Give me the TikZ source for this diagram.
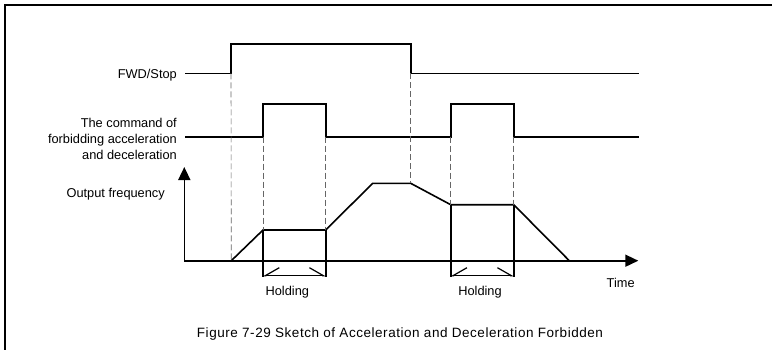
\documentclass[tikz,border=0pt]{standalone}
\usepackage{fontspec}
\setmainfont{Liberation Sans}
\usetikzlibrary{arrows.meta}
\begin{document}
\begin{tikzpicture}[x=1pt,y=-1pt,
  sig/.style={line width=1.6pt, line join=miter},
  guide/.style={black!60, line width=0.6pt, dash pattern=on 6pt off 3pt},
  lbl/.style={font=\fontsize{12.8}{16}\selectfont, inner sep=0pt, align=right},
  axis/.style={line width=1.6pt, -{Triangle[length=13pt,width=12pt]}},
  hold/.style={line width=1.2pt, {Straight Barb[harpoon,right,length=14pt,width=16pt]}-{Straight Barb[harpoon,left,length=14pt,width=16pt]}},
  frame/.style={line width=2pt}
]
\useasboundingbox (0,0) rectangle (772,349);
% frame (top and left edges)
\coordinate (fbl) at (5,352);
\coordinate (ftl) at (5,5);
\coordinate (ftr) at (775,5);
\draw[frame] (fbl) -- (ftl) -- (ftr);

% labels
\node[lbl, anchor=east] (fwdlbl) at (177,75) {FWD/Stop};
\node[lbl, anchor=east] (cmdlbl) at (177,139) {The command of\\forbidding acceleration\\and deceleration};
\node[lbl, anchor=east] (outlbl) at (165,194.5) {Output frequency};
\node[lbl] (time) at (620.7,282.7) {Time};
\node[lbl] (hold1) at (287.3,291.7) {Holding};
\node[lbl] (hold2) at (480,291.7) {Holding};
\node[lbl, font=\fontsize{13.5}{16}\selectfont\addfontfeature{LetterSpace=4}] (cap) at (400,334) {Figure 7-29 Sketch of Acceleration and Deceleration Forbidden};

% time points
\coordinate (f0) at (185,73.3);
\coordinate (f1) at (231,73.3);
\coordinate (f2) at (231,44);
\coordinate (f3) at (410.7,44);
\coordinate (f4) at (410.7,73.3);
\coordinate (f5) at (639,73.3);
\draw[sig] (f0) -- (f1) -- (f2) -- (f3) -- (f4) -- (f5);

\coordinate (c0) at (185,136.7);
\coordinate (c1) at (263,136.7);
\coordinate (c2) at (263,104);
\coordinate (c3) at (325.7,104);
\coordinate (c4) at (325.7,136.7);
\coordinate (c5) at (450.7,136.7);
\coordinate (c6) at (450.7,104);
\coordinate (c7) at (513.7,104);
\coordinate (c8) at (513.7,136.7);
\coordinate (c9) at (639,136.7);
\draw[sig] (c0) -- (c1) -- (c2) -- (c3) -- (c4) -- (c5) -- (c6) -- (c7) -- (c8) -- (c9);

% axes
\coordinate (o) at (184.3,260.7);
\coordinate (ytop) at (184.3,167);
\coordinate (xend) at (638.3,260.7);
\draw[axis] (o) -- (ytop);
\draw[axis] (o) -- (xend);

% output frequency
\coordinate (q0) at (231.3,260.7);
\coordinate (q1) at (263,230);
\coordinate (q2) at (325.7,230);
\coordinate (q3) at (372.7,183.3);
\coordinate (q4) at (410.7,183.3);
\coordinate (q5) at (450.7,204.7);
\coordinate (q6) at (513.7,204.7);
\coordinate (q7) at (569.3,260.7);
\draw[sig] (q0) -- (q1) -- (q2) -- (q3) -- (q4) -- (q5) -- (q6) -- (q7);

% holding verticals
\coordinate (h1) at (263,277.3);
\coordinate (h2) at (325.7,277.3);
\coordinate (h3) at (450.7,277.3);
\coordinate (h4) at (513.7,277.3);
\draw[sig] (q1) -- (h1);
\draw[sig] (q2) -- (h2);
\draw[sig] (q5) -- (h3);
\draw[sig] (q6) -- (h4);

% holding arrows
\coordinate (a1) at (263,275.7);
\coordinate (a2) at (325.7,275.7);
\coordinate (a3) at (450.7,275.7);
\coordinate (a4) at (513.7,275.7);
\draw[hold] (a1) -- (a2);
\draw[hold] (a3) -- (a4);

% dashed guides
\draw[guide] (f1) -- (q0);
\draw[guide] (c1) -- (q1);
\draw[guide] (c4) -- (q2);
\draw[guide] (f4) -- (q4);
\draw[guide] (c5) -- (q5);
\draw[guide] (c8) -- (q6);
\end{tikzpicture}
\end{document}
